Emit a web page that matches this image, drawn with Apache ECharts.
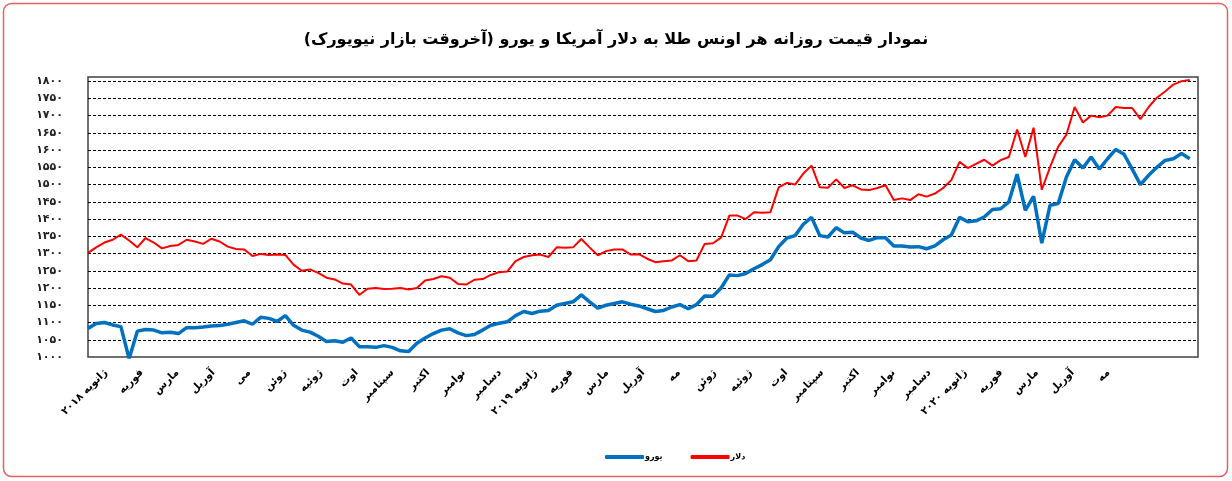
<!DOCTYPE html>
<html><head><meta charset="utf-8">
<script src="https://cdn.jsdelivr.net/npm/echarts@6/dist/echarts.min.js"></script>
<style>html,body{margin:0;padding:0;background:#fff}#c{width:1232px;height:481px}canvas{direction:rtl}</style>
</head><body><div id="c"></div>
<script>
const titleText = 'نمودار قیمت روزانه هر اونس طلا به دلار آمریکا و یورو (آخروقت بازار نیویورک)';
const monthLabels = ['ژانویه ۲۰۱۸','فوریه','مارس','آوریل','می','ژوئن','ژوئیه','اوت','سپتامبر','اکتبر','نوامبر','دسامبر',
  'ژانویه ۲۰۱۹','فوریه','مارس','آوریل','مه','ژوئن','ژوئیه','اوت','سپتامبر','اکتبر','نوامبر','دسامبر',
  'ژانویه ۲۰۲۰','فوریه','مارس','آوریل','مه','',''];
const seriesNames = ['یورو','دلار'];
// weekly samples (136 slots, last empty)
const usd = [1302,1318,1332,1340,1355,1338,1318,1345,1332,1315,1322,1325,1340,1335,1328,1343,1335,1320,1313,1312,1293,1299,1296,
  1297,1296,1268,1250,1254,1244,1230,1225,1213,1210,1180,1198,1200,1197,1198,1200,1196,1200,1222,1226,1234,1230,1212,
  1210,1224,1226,1238,1246,1248,1278,1290,1295,1297,1290,1318,1317,1318,1342,1318,1295,1307,1312,1312,1297,1298,
  1285,1275,1278,1280,1295,1278,1280,1328,1330,1346,1410,1410,1400,1420,1418,1420,1492,1505,1500,1532,1555,1492,
  1491,1515,1490,1498,1486,1484,1490,1498,1455,1460,1455,1472,1465,1474,1490,1513,1566,1548,1560,1572,1555,1571,
  1580,1660,1580,1665,1485,1550,1610,1645,1725,1680,1700,1695,1700,1725,1722,1722,1690,1725,1752,1770,1790,1800,1803,
  null];
const eur = [1083,1097,1100,1093,1088,995,1075,1080,1078,1070,1072,1068,1085,1085,1087,1090,1091,1095,1100,1105,1095,1115,1112,
  1103,1120,1092,1078,1072,1060,1045,1047,1043,1055,1030,1030,1028,1033,1028,1018,1016,1040,1055,1068,1078,1082,1070,
  1062,1065,1078,1092,1098,1102,1120,1132,1126,1133,1135,1150,1155,1160,1180,1160,1142,1150,1155,1160,1153,1148,
  1140,1132,1135,1145,1152,1140,1152,1177,1176,1200,1238,1236,1242,1256,1268,1282,1320,1345,1352,1385,1405,1352,
  1348,1375,1360,1362,1345,1338,1346,1346,1322,1322,1319,1320,1314,1322,1340,1354,1405,1392,1395,1406,1428,1430,
  1450,1530,1425,1466,1330,1440,1445,1522,1572,1548,1580,1545,1575,1602,1588,1545,1500,1527,1550,1570,1575,1590,1575,
  null];
const weeks = usd.map((_, i) => i);
const yMin = 1000, yMax = 1812, yStep = 50;
const faDigits = '۰۱۲۳۴۵۶۷۸۹';
const fa = s => String(s).replace(/\d/g, d => faDigits[d]);

const chart = echarts.init(document.getElementById('c'), null, {renderer: 'canvas'});
chart.setOption({
  animation: false,
  title: {text: titleText, left: 'center', top: 27,
    textStyle: {fontFamily: 'DejaVu Sans', fontWeight: 'bold', fontSize: 16, color: '#000'}},
  legend: {left: 600, top: 448, itemWidth: 39, itemHeight: 4, itemGap: 28,
    textStyle: {fontFamily: 'DejaVu Sans', fontSize: 8, fontWeight: 'bold', color: '#000', padding: [0, 0, 0, -4]},
    data: [{name: seriesNames[0], icon: 'roundRect'}, {name: seriesNames[1], icon: 'roundRect'}]},
  grid: {left: 88, top: 77, width: 1110, height: 280, show: true, borderColor: '#404040', borderWidth: 1.5},
  xAxis: [
    {type: 'category', data: monthLabels, boundaryGap: true, axisTick: {show: false}, axisLine: {show: false},
      splitLine: {show: false},
      axisLabel: {interval: 0, rotate: 45, margin: 14, fontFamily: 'DejaVu Sans', fontWeight: 'bold', fontSize: 10.5, color: '#000'}},
    {type: 'category', data: weeks, boundaryGap: false, show: false}
  ],
  yAxis: {type: 'value', min: yMin, max: yMax, interval: yStep, axisLine: {show: false}, axisTick: {show: false},
    axisLabel: {formatter: v => (v % yStep ? '' : fa(v)), margin: 25, padding: [0, 0, 8, 0],
      fontFamily: 'DejaVu Sans', fontWeight: 'bold', fontSize: 11, color: '#222'},
    splitLine: {show: true, showMinLine: false, showMaxLine: false, lineStyle: {type: [3, 2], color: '#000', width: 1}}},
  series: [
    {name: seriesNames[0], type: 'line', xAxisIndex: 1, data: eur, symbol: 'none', clip: true,
      lineStyle: {color: '#0070C0', width: 3.5}, itemStyle: {color: '#0070C0'}},
    {name: seriesNames[1], type: 'line', xAxisIndex: 1, data: usd, symbol: 'none', clip: true,
      lineStyle: {color: '#FF0000', width: 2}, itemStyle: {color: '#FF0000'}}
  ],
  graphic: [{type: 'rect', silent: true, z: -1, shape: {x: 3.5, y: 3.5, width: 1224, height: 473, r: 8},
    style: {fill: null, stroke: '#E86060', lineWidth: 1.5}}]
});
</script></body></html>
